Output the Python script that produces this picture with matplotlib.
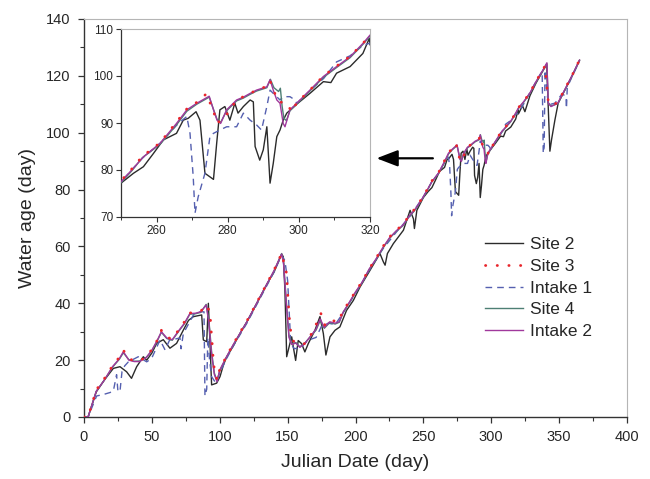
import matplotlib
matplotlib.use("Agg")
import matplotlib.pyplot as plt
from matplotlib.ticker import MultipleLocator

plt.rcParams['font.family'] = ['Liberation Sans', 'DejaVu Sans']

# ---------------- data ----------------
site2_day = [0, 3, 9, 15, 21.6, 26.5, 31.4, 35, 38.8, 43.7, 46.2, 50, 53.5, 58.4, 63.3, 68.2,
             73.2, 77, 80.6, 86.7, 87.9, 90.4, 91.6, 92.8, 94, 97.7, 100.2, 102.7, 105, 110,
             115, 120, 125, 130, 135, 140, 145.6, 146.8, 148, 148.8, 149.3, 151.7, 153, 154.2,
             155.9, 157.8, 160.3, 162.7, 165.2, 170.1, 173.8, 176.3, 178.2, 181.2, 184.9, 188.5,
             193.4, 198.4, 203.3, 210.7, 218, 220.5, 221.8, 223.5, 227.9, 235.3, 240.2, 242.7,
             243.4, 245.2, 250, 253.5, 256.3, 259.1, 261.9, 265.6, 267.5, 268.9, 271.1, 272.2,
             273.6, 276, 276.9, 277.8, 279.2, 280.6, 282, 282.9, 284.4, 286.3, 287.2, 287.7,
             289, 290, 291, 291.9, 292.8, 293.8, 294.7, 295.6, 296.6, 299.4, 303.1, 306.9, 309,
             310.6, 314.4, 318, 319.8, 320, 323, 324.8, 328.5, 333, 338.3, 340.8, 343.2, 344.4,
             346.9, 349.3, 354.2, 360, 365]
site2_age = [0, 0, 8.8, 13, 17.1, 17.7, 15.9, 13.6, 17.7, 21.2, 20, 22.5, 25.9, 27.2, 24.2, 25.9,
             30.6, 34, 35.3, 35.9, 27.1, 26.5, 40, 26, 11.3, 11.9, 14.2, 18.3, 21, 25,
             29.5, 33.5, 38, 42.5, 47, 51, 57.3, 56.4, 44.7, 30.6, 21.2, 25.9, 28.2, 24.6,
             19.9, 26.9, 25.8, 22.9, 25.8, 30.5, 35.3, 29.4, 21.8, 28.2, 30.5, 31.7,
             37.5, 41, 45.7, 51.6, 57.5, 54.6, 53.4, 57.5, 61, 65.7, 72.7, 69.7,
             66.3, 72.7, 77.2, 79.3, 80.7, 83.5, 86.4, 87.8, 90.6, 91, 92.4, 90.6,
             79.3, 78, 85.7, 92.8, 93.5, 90.6, 94.2, 92.1, 93.5, 94.9, 94.5, 85,
             82.1, 84.3, 89.2, 77.2, 81.4, 87.1, 88.5, 90.6, 92.1, 94, 96.3, 98.8, 98.6,
             100.6, 102, 104.8, 108, 106.6, 109.5, 107.4, 113, 117.5, 122, 124, 93.5, 97.5,
             104.5, 110.4, 115, 120.5, 125.5]

site3_day = [0, 3, 9, 15, 21, 26, 29, 33, 37, 41, 46, 50, 54, 57, 61, 65, 70, 74, 78, 82, 86, 90,
             92.8, 93.3, 94, 94.8, 95.3, 96.5, 98, 100, 105, 110, 115, 120, 125, 130, 135, 140,
             145.6, 149.3, 149.8, 150.5, 151.2, 152.2, 153.6, 156.6, 162.7, 166.4, 171.3, 174.5,
             177.5, 181.2, 187.3, 191, 195, 200, 205, 210, 215, 220, 225, 230, 235, 240, 243, 246,
             250, 253, 256, 261, 265.6, 268.5, 271.3, 274, 276, 277, 279, 282.5, 284.4, 286.3,
             288.1, 291, 291.9, 293.6, 294.5, 296.6, 298, 299.4, 303.1, 306.9, 310.6, 314.4,
             318.1, 320, 324, 328.5, 333, 339.5, 342, 344, 349, 354, 360, 365]
site3_age = [0, 0, 9.5, 13.5, 18, 21, 23.5, 20.5, 19.8, 19.8, 21.2, 23.8, 27, 30.5, 28, 27.5, 30.8,
             33.5, 36.6, 36.8, 37.2, 39.4,
             37, 33, 28.2, 23.5, 18.8, 16, 13, 16.8, 21.4, 25.7, 29.8, 33.8, 38.2, 42.7, 47.2, 51.7,
             57.5, 50.4, 45.7, 40, 35.2, 30.5, 27, 25.8, 25.8, 28.2, 32.9, 36.4,
             32.3, 34.1, 33.5, 37.5, 40.3, 44.2, 47.7, 52.1, 55.7, 59.8, 63.3, 65.7, 67.7, 71.2, 72.8, 74.7,
             77.7, 80.2, 82.9, 85.8, 90.2, 93, 94.4, 96.2, 92.5, 90, 91, 94.9, 95.6, 96.3,
             97, 97.8, 99, 95.6, 94.5, 94.2, 92.4, 94.3, 97, 100, 102.1, 104.2,
             107, 108.8, 111.1, 114.1, 118.1, 123.4, 111, 109.6, 110.6, 115.2, 120.6, 125.6]

intake1_day = [0, 3, 9.3, 14.2, 19.1, 21.6, 24, 25, 26.5, 28, 30, 32.7, 40, 46.2, 49.8, 56, 59.7, 63,
               70.7, 71.5, 73.2, 80.6, 85.5, 88.4, 89.1, 90.4, 91.2, 92.5, 94, 97, 100, 105, 110, 115,
               120, 125, 130, 135, 140, 145.6, 148, 150, 151.7, 152.2, 155, 160, 165, 171, 175, 180,
               185, 190, 200, 210, 220, 230, 240, 250, 256, 261, 265.6, 268.5, 269.4, 270.3, 270.8,
               271.7, 273.6, 275, 276, 277.8, 279.7, 282.5, 284.4, 286.3, 288.1, 289.5, 291, 291.9,
               292.8, 294.7, 295.6, 297.5, 298.9, 299.4, 303, 307, 310.6, 314.4, 318, 320, 325, 330,
               336, 337.5, 338.3, 339, 339.6, 342, 346.9, 352, 355, 355.4, 356, 360, 365]
intake1_age = [0, 0, 7.4, 7.9, 8.6, 9.1, 14.9, 9, 9, 16, 18, 19.4, 21.2, 19.4, 20.6, 27.1, 23.6, 27,
               27.8, 24, 29.4, 35.9, 37, 37, 7.4, 9.8, 28, 20, 14.2, 12, 15.5, 20.5, 25, 29,
               33, 37.5, 42, 46.5, 51, 57, 55, 48, 31.7, 25.8, 24, 24.5, 27, 28, 32, 33,
               32.5, 36, 43.5, 51.5, 59, 65, 70.5, 77.5, 82.5, 85.7, 89.5, 91.4, 87.8, 78.6, 70.8,
               74.3, 79.3, 87.1, 87.8, 88.5, 89.2, 89.2, 92.1, 90.6, 89.6, 88.5, 93.5, 97,
               96.3, 94.9, 95.6, 95.6, 94.9, 94.2, 96.8, 99.5, 103, 104.3, 106.5, 107, 111, 115.5,
               120.5, 121.5, 92.8, 95, 122, 109.8, 110.4, 113.5, 113, 108.5, 116, 120.2, 125.3]

site4_day = [0, 3, 9, 15, 21, 26, 29, 33, 37, 41, 46, 50, 54, 57, 61, 65, 70, 74, 78, 82, 86, 90,
             92, 94, 96, 98, 100, 105, 110, 115, 120, 125, 130, 135, 140, 145.6, 147, 149, 151, 153,
             156, 159, 163, 167, 171, 174, 177, 181, 185, 188, 191, 195, 200, 205, 210, 215, 220,
             225, 230, 235, 240, 243, 246, 250, 253, 256, 261, 265.6, 268.5, 271.3, 274.8, 276, 277,
             278, 279.7, 282.5, 284.4, 286.3, 288.1, 291, 292, 293, 294.3, 294.8, 295.3, 295.8,
             296.5, 297.5, 299.4, 303.1, 306.9, 310.6, 314.4, 318.1, 320, 324, 328.5, 333, 338,
             341, 342, 344, 349, 354, 360, 365]
site4_age = [0, 0, 9, 13, 17.5, 20.3, 22.6, 20.2, 19.6, 19.7, 21, 23.3, 26.8, 29.8, 27.6, 27, 30.3,
             32.8, 36.2, 36.3, 36.8, 39.6,
             34, 23, 15.5, 12.6, 16.4, 21.1, 25.4, 29.4, 33.4, 37.9, 42.4, 46.9, 51.4, 57.5, 54.5,
             41, 28.5, 25.8, 26.2, 24.7, 26.2, 28.4, 30.6, 34, 31.2, 33.2, 32.7, 33.3, 36.8, 39.8,
             43.8, 47.3, 51.8, 55.3, 59.2, 62.8, 65.3, 67.3, 70.8, 72.3, 74.3, 77.3, 79.8, 82.6,
             85.5, 89.6, 92.5, 94, 95.5, 92.9, 90.8, 90.1, 92.6, 94.7, 95.3, 96.1, 96.8, 97.5, 99.3,
             97.5, 96.7, 97.4, 93.5, 91, 90.5, 92.6, 94, 96.8, 99.7, 101.8, 103.9, 106.8, 108.5,
             110.8, 113.8, 117.8, 121.8, 124.3, 110.6, 109.4, 110.2, 114.8, 120.3, 125.3]

intake2_day = [0, 3, 9, 15, 21, 26, 29, 33, 37, 41, 46, 50, 54, 57, 61, 65, 70, 74, 78, 82, 86, 90,
               92, 94, 96, 98, 100, 105, 110, 115, 120, 125, 130, 135, 140, 145.6, 147, 149, 151,
               153, 156, 159, 163, 167, 171, 174, 177, 181, 185, 188, 191, 195, 200, 205, 210, 215,
               220, 225, 230, 235, 240, 243, 246, 250, 253, 256.3, 261, 265.6, 268.5, 271.3, 274.8,
               276, 277, 278, 279.7, 282.5, 284.4, 286.3, 288.1, 291, 291.9, 292.8, 293.8, 294.7,
               295.6, 296.1, 297.5, 299.4, 303.1, 306.9, 310.6, 314.4, 318.1, 320, 324, 328.5, 333,
               338, 341, 342, 344, 349, 354, 360, 365]
intake2_age = [0, 0, 9, 13, 17.7, 20.5, 23, 20, 19.5, 19.5, 21, 23.5, 27, 30, 27.8, 27.2, 30.5,
               33, 36.4, 36.5, 37, 39.4,
               33, 22, 15, 12.4, 16.5, 21.2, 25.5, 29.5, 33.5, 38, 42.5, 47, 51.5, 57.3, 54,
               40, 28, 25.5, 26, 24.5, 26, 28.5, 31, 34.5, 31.5, 33.5, 33, 33.5, 37, 40,
               44, 47.5, 52, 55.5, 59.5, 63, 65.5, 67.5, 71, 72.5, 74.5, 77.5, 80, 82.8, 85.7,
               89.9, 92.8, 94.2, 95.7, 92.8, 90.6, 89.9, 92.8, 94.9, 95.5, 96.3, 97, 97.7, 99.2,
               97, 94.9, 94.2, 89.9, 89.2, 92.8, 94.2, 97, 99.9, 102, 104.1, 107, 108.7, 111, 114,
               118, 122, 124.6, 110.4, 109.2, 110.4, 115, 120.5, 125.5]

x_ticks = [0, 50, 100, 150, 200, 250, 300, 350, 400]
y_ticks = [0, 20, 40, 60, 80, 100, 120, 140]
inset_x_ticks = [260, 280, 300, 320]
inset_y_ticks = [70, 80, 90, 100, 110]

# ---------------- styles ----------------
styles = {
    'Site 2':   dict(color='#2b2b2b', lw=1.0, ls='-'),
    'Site 3':   dict(color='#e8252b', lw=2.0, ls=(0, (0.1, 4.1)), dash_capstyle='round'),
    'Intake 1': dict(color='#5560b0', lw=1.0, ls=(0, (4.8, 3.6))),
    'Site 4':   dict(color='#4d7f74', lw=1.0, ls='-'),
    'Intake 2': dict(color='#a0389c', lw=1.0, ls='-'),
}
series = [('Site 2', site2_day, site2_age, 2),
          ('Site 3', site3_day, site3_age, 6),
          ('Intake 1', intake1_day, intake1_age, 3),
          ('Site 4', site4_day, site4_age, 4),
          ('Intake 2', intake2_day, intake2_age, 5)]

txt = '#262626'
fig = plt.figure(figsize=(6.5, 4.79), dpi=100)
ax = fig.add_axes([84/650, 1-417/479, (627-84)/650, (417-19)/479])

handles = {}
for name, d, a, z in series:
    ln, = ax.plot(d, a, zorder=z, label=name, **styles[name])
    handles[name] = ln

ax.set_xlim(0, 400)
ax.set_ylim(0, 140)
ax.set_xticks(x_ticks)
ax.set_yticks(y_ticks)
ax.xaxis.set_minor_locator(MultipleLocator(25))
ax.yaxis.set_minor_locator(MultipleLocator(10))
ax.tick_params(which='major', direction='out', length=4.5, width=0.9, colors='#333333',
               labelsize=10.5, labelcolor=txt, pad=5)
ax.tick_params(which='minor', direction='out', length=3, width=0.8, colors='#333333')
for s in ['left', 'bottom']:
    ax.spines[s].set_color('#333333'); ax.spines[s].set_linewidth(1.0)
for s in ['top', 'right']:
    ax.spines[s].set_color('#b5b5b5'); ax.spines[s].set_linewidth(0.8)
ax.set_xlabel('Julian Date (day)', fontsize=14, color=txt, labelpad=7)
ax.set_ylabel('Water age (day)', fontsize=14, color=txt, labelpad=7)

order = ['Site 2', 'Site 3', 'Intake 1', 'Site 4', 'Intake 2']
ax.legend([handles[k] for k in order], order, loc='upper left',
          bbox_to_anchor=((485-84)/543, (417-237)/398), frameon=False, fontsize=12.5,
          handlelength=2.2, handletextpad=0.4, labelspacing=0.38, borderpad=0, borderaxespad=0,
          labelcolor=txt)

# arrow pointing to the inset
ax.annotate('', xy=(215.5, 91), xytext=(257, 91),
            arrowprops=dict(arrowstyle='-|>,head_length=1.3,head_width=0.5', color='black',
                            lw=1.6, shrinkA=0, shrinkB=0), zorder=8)

# ---------------- inset ----------------
ins = fig.add_axes([121/650, 1-217/479, (370-121)/650, (217-29)/479])
ins.set_zorder(10)
ins.set_facecolor('white')
for name, d, a, z in series:
    ins.plot(d, a, zorder=z, **styles[name])
ins.set_xlim(250, 320)
ins.set_ylim(70, 110)
ins.set_xticks(inset_x_ticks)
ins.set_yticks(inset_y_ticks)
ins.xaxis.set_minor_locator(MultipleLocator(10))
ins.tick_params(which='major', direction='out', length=3.5, width=0.8, colors='#333333',
                labelsize=8.5, labelcolor=txt, pad=2)
ins.tick_params(which='minor', direction='out', length=2.2, width=0.7, colors='#333333')
for s in ['left', 'bottom']:
    ins.spines[s].set_color('#333333'); ins.spines[s].set_linewidth(0.9)
for s in ['top', 'right']:
    ins.spines[s].set_color('#b5b5b5'); ins.spines[s].set_linewidth(0.8)

fig.savefig('out.png', dpi=100)
